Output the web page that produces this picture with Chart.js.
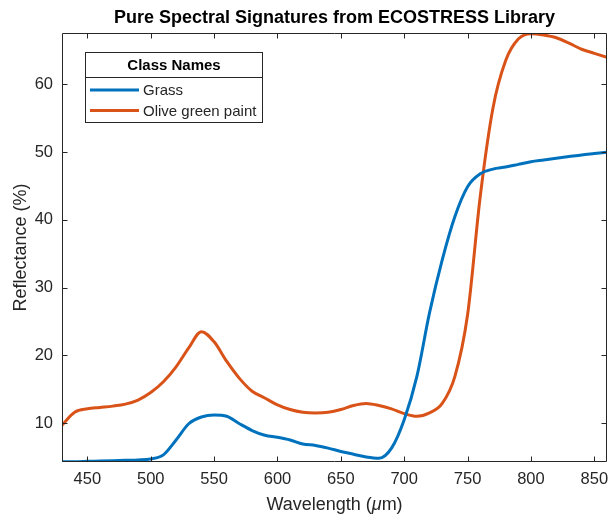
<!DOCTYPE html>
<html>
<head>
<meta charset="utf-8">
<script src="https://cdn.jsdelivr.net/npm/chart.js@4/dist/chart.umd.min.js"></script>
<style>
  body { margin: 0; background: #fff; }
  #wrap { width: 608px; height: 516px; }
</style>
</head>
<body>
<div id="wrap"><canvas id="spectra" width="608" height="516"></canvas></div>
<script>
// wavelength samples (nm, labelled µm on the axis like the original)
const wavelengths = [430, 440, 450, 460, 470, 480, 490, 500, 510, 520, 530, 540, 550, 560, 570, 580,
  590, 600, 610, 620, 630, 640, 650, 660, 670, 680, 690, 700, 710, 720, 730, 740, 750, 760,
  770, 780, 790, 800, 810, 820, 830, 840, 850, 860];

const grass = [4.3, 4.3, 4.35, 4.4, 4.45, 4.5, 4.55, 4.7, 5.3, 7.5, 9.9, 10.9, 11.2, 11.0, 9.9, 8.9,
  8.2, 7.9, 7.5, 6.9, 6.7, 6.3, 5.8, 5.4, 5.0, 4.8, 6.3, 10.5, 16.9, 26.3, 34.1, 40.5, 44.9, 46.8,
  47.5, 47.8, 48.2, 48.6, 48.85, 49.1, 49.35, 49.6, 49.8, 50.0];

const olivePaint = [9.7, 11.6, 12.1, 12.3, 12.5, 12.8, 13.4, 14.5, 16.1, 18.3, 21.1, 23.5, 22.0, 19.1, 16.6, 14.7,
  13.7, 12.7, 12.0, 11.6, 11.5, 11.6, 12.0, 12.6, 12.9, 12.6, 12.1, 11.4, 11.0, 11.5, 12.9, 16.9, 26.0, 43.5,
  56.5, 63.5, 66.7, 67.5, 67.3, 66.9, 66.1, 65.2, 64.6, 64.0];

const classNames = ['Grass', 'Olive green paint'];
const xTicks = [450, 500, 550, 600, 650, 700, 750, 800, 850];
const yTicks = [10, 20, 30, 40, 50, 60];

const textColor = '#262626';
const fontFamily = '"Liberation Sans", Arial, Helvetica, sans-serif';

function toPoints(xs, ys) {
  return xs.map((x, i) => ({ x: x, y: ys[i] }));
}

// matlab-style box with inward tick marks
const boxTicks = {
  id: 'boxTicks',
  afterDatasetsDraw(chart) {
    const { ctx, chartArea: a, scales } = chart;
    const len = 5;
    ctx.save();
    ctx.strokeStyle = textColor;
    ctx.lineWidth = 1;
    ctx.beginPath();
    const l = Math.round(a.left) + 0.5, r = Math.round(a.right) - 0.5;
    const t = Math.round(a.top) + 0.5, b = Math.round(a.bottom) - 0.5;
    ctx.rect(l, t, r - l, b - t);
    xTicks.forEach(v => {
      const px = Math.round(scales.x.getPixelForValue(v)) + 0.5;
      ctx.moveTo(px, b); ctx.lineTo(px, b - len);
      ctx.moveTo(px, t); ctx.lineTo(px, t + len);
    });
    yTicks.forEach(v => {
      const py = Math.round(scales.y.getPixelForValue(v)) + 0.5;
      ctx.moveTo(l, py); ctx.lineTo(l + len, py);
      ctx.moveTo(r, py); ctx.lineTo(r - len, py);
    });
    ctx.stroke();
    ctx.restore();
  }
};

// x label with a tex-style italic mu
const xLabel = {
  id: 'xLabel',
  afterDraw(chart) {
    const { ctx, chartArea: a } = chart;
    const parts = [['Wavelength (', ''], ['μ', 'italic '], ['m)', '']];
    ctx.save();
    ctx.fillStyle = textColor;
    ctx.textBaseline = 'middle';
    ctx.textAlign = 'left';
    let total = 0;
    parts.forEach(p => { ctx.font = p[1] + '18px ' + fontFamily; total += ctx.measureText(p[0]).width; });
    let x = (a.left + a.right) / 2 - total / 2;
    parts.forEach(p => {
      ctx.font = p[1] + '18px ' + fontFamily;
      ctx.fillText(p[0], x, 505);
      x += ctx.measureText(p[0]).width;
    });
    ctx.restore();
  }
};

// legend box with a title row, drawn inside the plot
const boxLegend = {
  id: 'boxLegend',
  afterDraw(chart) {
    const { ctx } = chart;
    const x0 = 85.5, y0 = 52.5, w = 177, h = 70, sep = 77.5;
    ctx.save();
    ctx.fillStyle = '#fff';
    ctx.fillRect(x0, y0, w, h);
    ctx.strokeStyle = textColor;
    ctx.lineWidth = 1;
    ctx.strokeRect(x0, y0, w, h);
    ctx.beginPath();
    ctx.moveTo(x0, sep); ctx.lineTo(x0 + w, sep);
    ctx.stroke();

    ctx.fillStyle = '#000';
    ctx.font = 'bold 15px ' + fontFamily;
    ctx.textAlign = 'center';
    ctx.textBaseline = 'middle';
    ctx.fillText('Class Names', x0 + w / 2, 66);

    ctx.font = '15px ' + fontFamily;
    ctx.textAlign = 'left';
    chart.data.datasets.forEach((ds, i) => {
      const y = 90 + i * 20.5;
      ctx.strokeStyle = ds.borderColor;
      ctx.lineWidth = 3;
      ctx.beginPath();
      ctx.moveTo(90, y); ctx.lineTo(139, y);
      ctx.stroke();
      ctx.fillStyle = textColor;
      ctx.fillText(ds.label, 143, y + 1);
    });
    ctx.restore();
  }
};

new Chart(document.getElementById('spectra'), {
  type: 'line',
  data: {
    datasets: [{
      label: classNames[0],
      data: toPoints(wavelengths, grass),
      borderColor: '#0072BD',
      borderWidth: 3,
      pointRadius: 0,
      cubicInterpolationMode: 'monotone',
      clip: 0
    }, {
      label: classNames[1],
      data: toPoints(wavelengths, olivePaint),
      borderColor: '#D95319',
      borderWidth: 3,
      pointRadius: 0,
      cubicInterpolationMode: 'monotone',
      clip: 0
    }]
  },
  options: {
    responsive: false,
    animation: false,
    layout: { padding: { left: 0, right: 1, top: 0, bottom: 0 } },
    scales: {
      x: {
        type: 'linear',
        min: 430,
        max: 860,
        afterFit: s => { s.height = 54; s.paddingLeft = 0; s.paddingRight = 0; },
        afterBuildTicks: s => { s.ticks = xTicks.map(v => ({ value: v })); },
        grid: { drawOnChartArea: false, drawTicks: false },
        border: { display: false },
        ticks: { color: textColor, padding: 8, maxRotation: 0, font: { family: fontFamily, size: 16.5 } },
        title: { display: false }
      },
      y: {
        min: 4.25,
        max: 67.6,
        afterFit: s => { s.width = 62; s.paddingTop = 0; s.paddingBottom = 0; },
        afterBuildTicks: s => { s.ticks = yTicks.map(v => ({ value: v })); },
        grid: { drawOnChartArea: false, drawTicks: false },
        border: { display: false },
        ticks: { color: textColor, padding: 9, font: { family: fontFamily, size: 16.5 } },
        title: {
          display: true,
          text: 'Reflectance (%)',
          color: textColor,
          padding: { top: 10, bottom: 0 },
          font: { family: fontFamily, size: 18 }
        }
      }
    },
    plugins: {
      legend: { display: false },
      tooltip: { enabled: false },
      title: {
        display: true,
        fullSize: false,
        text: 'Pure Spectral Signatures from ECOSTRESS Library',
        color: '#000',
        padding: { top: 7, bottom: 4.4 },
        font: { family: fontFamily, size: 18, weight: 'bold' }
      }
    }
  },
  plugins: [boxTicks, xLabel, boxLegend]
});
</script>
</body>
</html>
